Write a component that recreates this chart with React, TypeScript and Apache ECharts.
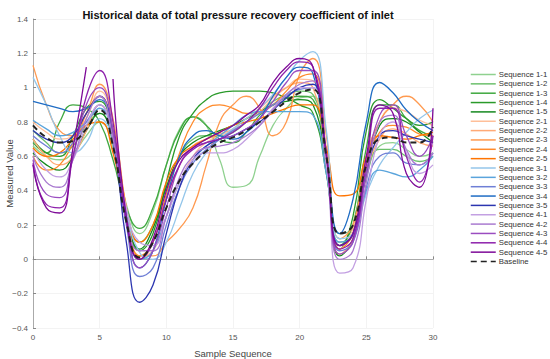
import React, { useEffect, useRef } from "react";
import * as echarts from "echarts";

const xs = [0,1,2,3,4,5,6,7,8,9,10,11,12,13,14,15,16,17,18,19,20,21,22,23,24,25,26,27,28,29,30];

const seriesNames = [
  "Sequence 1-1","Sequence 1-2","Sequence 1-3","Sequence 1-4","Sequence 1-5",
  "Sequence 2-1","Sequence 2-2","Sequence 2-3","Sequence 2-4","Sequence 2-5",
  "Sequence 3-1","Sequence 3-2","Sequence 3-3","Sequence 3-4","Sequence 3-5",
  "Sequence 4-1","Sequence 4-2","Sequence 4-3","Sequence 4-4","Sequence 4-5",
];

const colors = [
  "#8fd18f","#6cc06c","#3fa83f","#2a9a2a","#15881f",
  "#ffbf99","#ffaa77","#ff9a50","#ff8a2a","#ff7400",
  "#94c6ea","#5aa4dc","#6f7fd6","#1f6cc4","#2b35b0",
  "#c3a0e2","#a97ad0","#9a4cc0","#8e22ac","#7e0a98",
];

const s11 = [0.66,0.6,0.58,0.62,0.72,0.8,0.65,0.32,0.15,0.28,0.55,0.76,0.83,0.78,0.58,0.42,0.43,0.6,0.78,0.88,0.94,0.95,0.6,0.15,0.18,0.48,0.66,0.68,0.64,0.6,0.62];
const s12 = [0.75,0.68,0.62,0.66,0.78,0.85,0.7,0.3,0.1,0.2,0.42,0.6,0.7,0.72,0.72,0.74,0.8,0.86,0.92,0.96,0.98,0.96,0.55,0.1,0.15,0.48,0.64,0.64,0.6,0.57,0.6];
const s13 = [0.68,0.62,0.8,0.9,0.88,0.8,0.58,0.3,0.18,0.3,0.55,0.75,0.83,0.78,0.7,0.68,0.74,0.84,0.9,0.94,0.95,0.93,0.55,0.08,0.2,0.65,0.9,0.9,0.82,0.75,0.72];
const s14 = [0.7,0.62,0.6,0.72,0.88,0.92,0.7,0.28,0.05,0.15,0.45,0.72,0.85,0.93,0.97,0.98,0.98,0.98,0.97,0.94,0.9,0.85,0.5,0.06,0.25,0.75,0.93,0.88,0.82,0.78,0.8];
const s15 = [0.62,0.55,0.52,0.6,0.75,0.85,0.68,0.28,0.06,0.18,0.42,0.6,0.68,0.72,0.75,0.78,0.82,0.86,0.9,0.92,0.93,0.9,0.52,0.02,0.12,0.5,0.78,0.82,0.8,0.74,0.68];
const s21 = [0.8,0.74,0.7,0.72,0.82,0.98,0.8,0.3,0.02,0.05,0.25,0.45,0.6,0.68,0.72,0.75,0.8,0.86,0.94,1.0,1.05,1.04,0.6,0.06,0.18,0.58,0.8,0.88,0.86,0.81,0.78];
const s22 = [0.7,0.6,0.55,0.6,0.75,0.9,0.72,0.25,0.0,0.1,0.35,0.55,0.66,0.7,0.73,0.76,0.82,0.88,0.95,1.0,1.03,1.0,0.55,0.03,0.12,0.5,0.7,0.76,0.73,0.68,0.66];
const s23 = [1.13,0.9,0.75,0.72,0.85,1.02,0.82,0.3,0.02,0.02,0.1,0.18,0.3,0.55,0.8,0.9,0.95,0.88,0.72,0.8,1.08,1.17,0.72,0.12,0.2,0.6,0.8,0.9,0.95,0.9,0.8];
const s24 = [0.6,0.52,0.55,0.68,0.85,0.95,0.75,0.3,0.02,0.1,0.38,0.62,0.8,0.88,0.9,0.88,0.85,0.86,0.9,0.98,1.06,1.08,0.62,0.06,0.15,0.55,0.74,0.78,0.77,0.73,0.72];
const s25 = [0.65,0.6,0.62,0.7,0.78,0.8,0.62,0.28,0.1,0.2,0.45,0.6,0.66,0.7,0.74,0.78,0.8,0.82,0.85,0.88,0.9,0.9,0.65,0.37,0.38,0.6,0.72,0.71,0.7,0.72,0.74];
const s31 = [1.06,0.9,0.72,0.62,0.68,0.82,0.7,0.28,0.04,0.0,0.1,0.3,0.5,0.62,0.7,0.76,0.82,0.88,0.96,1.06,1.16,1.21,0.75,0.12,0.15,0.38,0.55,0.65,0.74,0.82,0.87];
const s32 = [0.81,0.76,0.72,0.74,0.8,0.88,0.7,0.25,0.0,0.05,0.25,0.45,0.58,0.66,0.72,0.78,0.84,0.86,0.86,0.86,0.86,0.84,0.5,0.1,0.14,0.4,0.52,0.5,0.48,0.52,0.6];
const s33 = [0.72,0.66,0.62,0.68,0.8,0.9,0.68,0.2,-0.1,-0.05,0.2,0.42,0.56,0.64,0.7,0.75,0.8,0.85,0.9,0.95,0.99,1.0,0.55,0.05,0.1,0.42,0.6,0.62,0.56,0.55,0.62];
const s34 = [0.92,0.9,0.88,0.86,0.88,0.93,0.75,0.25,-0.05,0.05,0.35,0.6,0.72,0.75,0.72,0.7,0.74,0.82,0.95,1.06,1.12,1.08,0.6,0.15,0.35,0.8,1.03,0.97,0.87,0.8,0.75];
const s35 = [0.75,0.7,0.68,0.72,0.85,0.95,0.7,0.1,-0.25,-0.15,0.15,0.42,0.58,0.66,0.7,0.72,0.76,0.8,0.87,0.94,1.0,1.02,0.58,0.08,0.15,0.5,0.72,0.75,0.72,0.7,0.68];
const s41 = [0.64,0.52,0.48,0.58,0.78,0.9,0.7,0.3,0.1,0.08,0.25,0.45,0.58,0.62,0.62,0.64,0.7,0.78,0.88,0.96,1.0,1.0,0.55,-0.08,-0.05,0.35,0.72,0.8,0.62,0.5,0.55];
const s42 = [0.6,0.45,0.42,0.58,0.82,0.95,0.7,0.25,0.05,0.05,0.25,0.48,0.6,0.65,0.66,0.68,0.72,0.78,0.87,0.96,1.02,1.04,0.6,0.0,0.05,0.45,0.8,0.84,0.64,0.55,0.62];
const s43 = [0.58,0.38,0.36,0.6,0.9,1.0,0.75,0.22,-0.05,0.05,0.3,0.55,0.65,0.68,0.7,0.72,0.76,0.82,0.92,1.03,1.1,1.1,0.62,0.03,0.1,0.5,0.84,0.9,0.72,0.6,0.72];
const s44 = [0.56,0.32,0.3,0.6,0.95,1.1,0.8,0.22,0.0,0.1,0.35,0.55,0.64,0.68,0.7,0.74,0.8,0.88,1.0,1.1,1.15,1.12,0.62,0.06,0.12,0.55,0.88,0.88,0.6,0.45,0.72];
const s45 = [0.55,0.3,0.27,0.65,1.12,null,1.05,0.25,0.0,0.12,0.4,0.58,0.65,0.7,0.74,0.78,0.84,0.9,1.03,1.12,1.17,1.12,0.6,0.08,0.15,0.6,0.9,0.85,0.5,0.42,0.88];
const baseline = [0.78,0.71,0.68,0.69,0.76,0.87,0.66,0.22,0.01,0.1,0.3,0.46,0.56,0.63,0.68,0.71,0.75,0.8,0.86,0.92,0.97,0.99,0.6,0.15,0.2,0.55,0.7,0.71,0.68,0.68,0.77];

const seriesValues = [s11,s12,s13,s14,s15,s21,s22,s23,s24,s25,s31,s32,s33,s34,s35,s41,s42,s43,s44,s45];

const yTicks = [-0.4,-0.2,0,0.2,0.4,0.6,0.8,1,1.2,1.4];
const xTicks = [0,5,10,15,20,25,30];

export default function App() {
  const ref = useRef<HTMLDivElement>(null);
  useEffect(() => {
    if (!ref.current) return;
    const chart = echarts.init(ref.current, null, { renderer: "svg" });
    const font = "Liberation Sans, Arial, sans-serif";
    const series: any[] = seriesValues.map((vals, i) => ({
      name: seriesNames[i],
      type: "line",
      smooth: 0.5,
      symbol: "none",
      connectNulls: false,
      data: xs.map((x, j) => [x, vals[j]]),
      lineStyle: { width: 1.3, color: colors[i] },
      itemStyle: { color: colors[i] },
    }));
    series.push({
      name: "Baseline",
      type: "line",
      smooth: 0.5,
      symbol: "none",
      data: xs.map((x, j) => [x, baseline[j]]),
      lineStyle: { width: 2, color: "#222", type: [6, 4] },
      itemStyle: { color: "#222" },
      z: 5,
    });
    chart.setOption({
      animation: false,
      backgroundColor: "#fff",
      title: {
        text: "Historical data of total pressure recovery coefficient of inlet",
        left: 233,
        textAlign: "center",
        top: 4,
        textStyle: { fontFamily: font, fontSize: 11, fontWeight: "bold", color: "#111" },
      },
      legend: {
        orient: "vertical",
        left: 470,
        top: 70.5,
        width: 80,
        padding: 0,
        itemWidth: 25,
        itemHeight: 8,
        itemGap: 1.35,
        itemStyle: { opacity: 0 },
        lineStyle: { width: 1.5 },
        textStyle: { fontFamily: font, fontSize: 7.8, color: "#333", overflow: "none", padding: [0, 0, 0, -2] },
        data: [...seriesNames, "Baseline"],
      },
      grid: { left: 33, right: 117, top: 19, bottom: 31, containLabel: false, outerBoundsMode: "none" },
      xAxis: {
        type: "value",
        min: xTicks[0],
        max: xTicks[xTicks.length - 1],
        interval: 5,
        name: "Sample Sequence",
        nameLocation: "middle",
        nameGap: 20,
        nameMoveOverlap: false,
        nameTextStyle: { fontFamily: font, fontSize: 9.5, color: "#444" },
        axisLine: { lineStyle: { color: "#aaa", width: 1 } },
        axisTick: { inside: true, length: 3, lineStyle: { color: "#888" } },
        axisLabel: { fontFamily: font, fontSize: 8, color: "#555", margin: 5 },
        splitLine: { show: true, lineStyle: { color: "#f3f3f3", width: 1 } },
      },
      yAxis: {
        type: "value",
        min: yTicks[0],
        max: yTicks[yTicks.length - 1],
        interval: 0.2,
        name: "Measured Value",
        nameLocation: "middle",
        nameGap: 19,
        nameMoveOverlap: false,
        nameTextStyle: { fontFamily: font, fontSize: 9.5, color: "#444" },
        axisLine: { show: true, lineStyle: { color: "#aaa", width: 1 } },
        axisTick: { show: true, inside: true, length: 3, lineStyle: { color: "#888" } },
        axisLabel: {
          fontFamily: font, fontSize: 8, color: "#555", margin: 5,
          formatter: (v: number) => String(Math.round(v * 10) / 10).replace("-", "\u2212"),
        },
        splitLine: { show: true, lineStyle: { color: "#f3f3f3", width: 1 } },
      },
      series,
    });
    return () => chart.dispose();
  }, []);
  return <div ref={ref} style={{ width: 550, height: 359, position: "absolute", left: 0, top: 0 }} />;
}
